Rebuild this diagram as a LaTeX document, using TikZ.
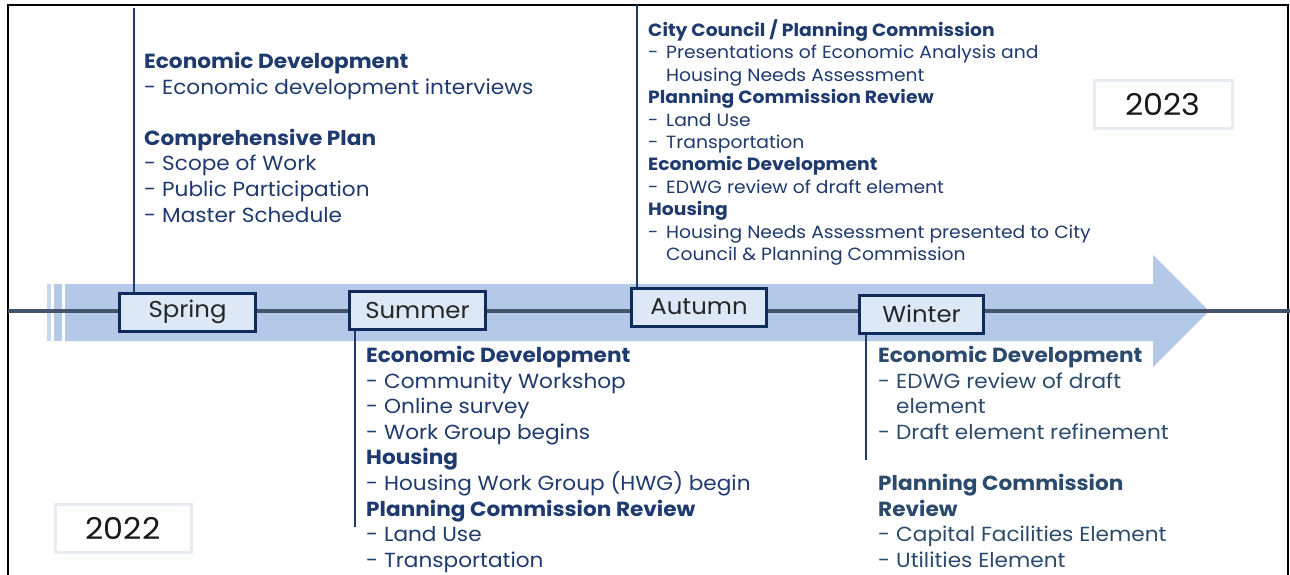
\documentclass[tikz,border=0pt]{standalone}
\usepackage{fontspec}
\setmainfont{Poppins}[FakeStretch=1.06]
\definecolor{navy}{HTML}{1F3A6E}
\definecolor{slate}{HTML}{2C4A6C}
\definecolor{boxline}{HTML}{0F2B5B}
\definecolor{boxfill}{HTML}{DCE8F6}
\definecolor{band}{HTML}{B4C9E8}
\definecolor{strip}{HTML}{C8D8EE}
\definecolor{axisc}{HTML}{44546A}
\definecolor{yearline}{HTML}{E8ECF2}
\newcommand\itm[1]{\makebox[18pt][l]{-}#1}
\newcommand\cnt[1]{\hspace*{18pt}#1}
\begin{document}
\begin{tikzpicture}[x=1pt,y=-1pt,
  season/.style={draw=boxline, line width=3pt, fill=boxfill, minimum height=38pt, inner sep=0pt,
    font=\fontsize{23}{26}\selectfont, text=black!85},
  yearbox/.style={draw=yearline, line width=3pt, fill=white, minimum width=136pt, minimum height=48pt,
    inner sep=0pt, font=\fontsize{30}{34}\selectfont, text=black!90},
  tl/.style={draw=navy, line width=2pt},
  blockA/.style={anchor=north west, align=left, inner sep=0pt, text=navy, font=\fontsize{20.4}{25.6}\selectfont},
  blockB/.style={anchor=north west, align=left, inner sep=0pt, text=navy, font=\fontsize{17.7}{22.4}\selectfont}
]
\useasboundingbox (0,0) rectangle (1290,575);
\fill[white] (0,0) rectangle (1290,575);
% frame
\draw[black, line width=2pt] (8,580) -- (8,5) -- (1288,5) -- (1288,580);
% band arrow
\fill[band] (65,284) -- (1153,284) -- (1153,255) -- (1209,311) -- (1153,367) -- (1153,341) -- (65,341) -- cycle;
\fill[strip] (47,284) rectangle (51,341);
\fill[band] (54,284) rectangle (62,341);
% axis
\draw[axisc, line width=4pt] (8,311) -- (1290,311);
% seasons
\node[season, minimum width=136pt] (spring) at (187.5,312) {Spring};
\node[season, minimum width=136pt] (summer) at (417.5,310) {Summer};
\node[season, minimum width=135pt] (autumn) at (699,307) {Autumn};
\node[season, minimum width=124pt] (winter) at (921.5,314) {Winter};
% connectors
\coordinate (sprtop) at (134,8);
\coordinate (auttop) at (637,5);
\coordinate (sumbot) at (355,527);
\coordinate (winbot) at (866,460);
\draw[tl] (sprtop) -- (sprtop |- spring.north);
\draw[tl] (auttop) -- (auttop |- autumn.north);
\draw[tl] (sumbot) -- (sumbot |- summer.south);
\draw[tl] (winbot) -- (winbot |- winter.south);
% text blocks
\node[blockA] (sprtext) at (144,52) {\textbf{Economic Development}\\
\itm{Economic development interviews}\\[25.6pt]
\textbf{Comprehensive Plan}\\
\itm{Scope of Work}\\
\itm{Public Participation}\\
\itm{Master Schedule}};
\node[blockA] (sumtext) at (366,346) {\textbf{Economic Development}\\
\itm{Community Workshop}\\
\itm{Online survey}\\
\itm{Work Group begins}\\
\textbf{Housing}\\
\itm{Housing Work Group (HWG) begin}\\
\textbf{Planning Commission Review}\\
\itm{Land Use}\\
\itm{Transportation}};
\node[blockB] (auttext) at (648,19.5) {\textbf{City Council / Planning Commission}\\
\itm{Presentations of Economic Analysis and}\\
\cnt{Housing Needs Assessment}\\
\textbf{Planning Commission Review}\\
\itm{Land Use}\\
\itm{Transportation}\\
\textbf{Economic Development}\\
\itm{EDWG review of draft element}\\
\textbf{Housing}\\
\itm{Housing Needs Assessment presented to City}\\
\cnt{Council \& Planning Commission}};
\node[blockA, text=slate] (wintext) at (878,346) {\textbf{Economic Development}\\
\itm{EDWG review of draft}\\
\cnt{element}\\
\itm{Draft element refinement}\\[25.6pt]
\textbf{Planning Commission}\\
\textbf{Review}\\
\itm{Capital Facilities Element}\\
\itm{Utilities Element}};
% years
\node[yearbox] (y2022) at (123,528) {2022};
\node[yearbox, minimum width=138pt] (y2023) at (1163,105) {2023};
\end{tikzpicture}
\end{document}
